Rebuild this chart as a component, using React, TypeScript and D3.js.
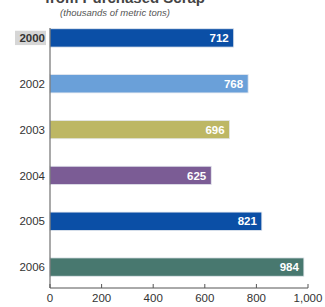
import React from "react";
import * as d3 from "d3";

const years = ["2000", "2002", "2003", "2004", "2005", "2006"];
const values = [712, 768, 696, 625, 821, 984];
const barColors = ["#0b4fa6", "#6aa0d9", "#bdb764", "#7b5c95", "#0b4fa6", "#48786f"];
const xTicks = [0, 200, 400, 600, 800, 1000];

export default function App() {
  const width = 325;
  const height = 307;
  const margin = { top: 28, right: 17, bottom: 19, left: 50 };

  const x = d3.scaleLinear().domain([0, 1000]).range([margin.left, width - margin.right]);
  const y = d3
    .scaleBand()
    .domain(years)
    .range([15, 290])
    .paddingInner(0.6)
    .paddingOuter(0.3);

  const axisY = height - margin.bottom;
  const fmt = d3.format(",");

  return (
    <svg
      width={width}
      height={height}
      style={{ position: "absolute", left: 0, top: 0, fontFamily: "Liberation Sans, Arial, sans-serif" }}
    >
      <rect width={width} height={height} fill="#fff" />
      {/* title is clipped at top of the picture */}
      <text x={125} y={3} textAnchor="middle" fontSize={15} fontWeight="bold" fill="#444">
        from Purchased Scrap
      </text>
      <text x={115} y={16} textAnchor="middle" fontSize={9.5} fontStyle="italic" fill="#555">
        (thousands of metric tons)
      </text>

      {years.map((yr, i) => {
        const by = y(yr) as number;
        const bh = y.bandwidth();
        return (
          <g key={yr}>
            <rect
              x={x(0)}
              y={by}
              width={x(values[i]) - x(0)}
              height={bh}
              fill={barColors[i]}
              stroke="#e4e8ee"
              strokeWidth={0.8}
            />
            <text
              x={x(values[i]) - 5}
              y={by + bh / 2}
              dy="0.36em"
              textAnchor="end"
              fontSize={11.5}
              fontWeight="bold"
              fill="#fff"
            >
              {values[i]}
            </text>
            {i === 0 && <rect x={15} y={by + 2} width={31} height={bh - 4} fill="#d6d6d6" />}
            <text
              x={45}
              y={by + bh / 2}
              dy="0.36em"
              textAnchor="end"
              fontSize={11.5}
              fontWeight={i === 0 ? "bold" : "normal"}
              fill="#333"
            >
              {yr}
            </text>
          </g>
        );
      })}

      <line x1={x(0)} x2={x(0)} y1={margin.top} y2={axisY} stroke="#555" strokeWidth={1} />
      <line x1={x(0)} x2={x(1000)} y1={axisY} y2={axisY} stroke="#555" strokeWidth={1} />
      {xTicks.map((t) => (
        <g key={t}>
          <line x1={x(t)} x2={x(t)} y1={axisY} y2={axisY - 4} stroke="#555" />
          <text x={x(t)} y={axisY + 14} textAnchor="middle" fontSize={11.5} fill="#333">
            {fmt(t)}
          </text>
        </g>
      ))}
    </svg>
  );
}
